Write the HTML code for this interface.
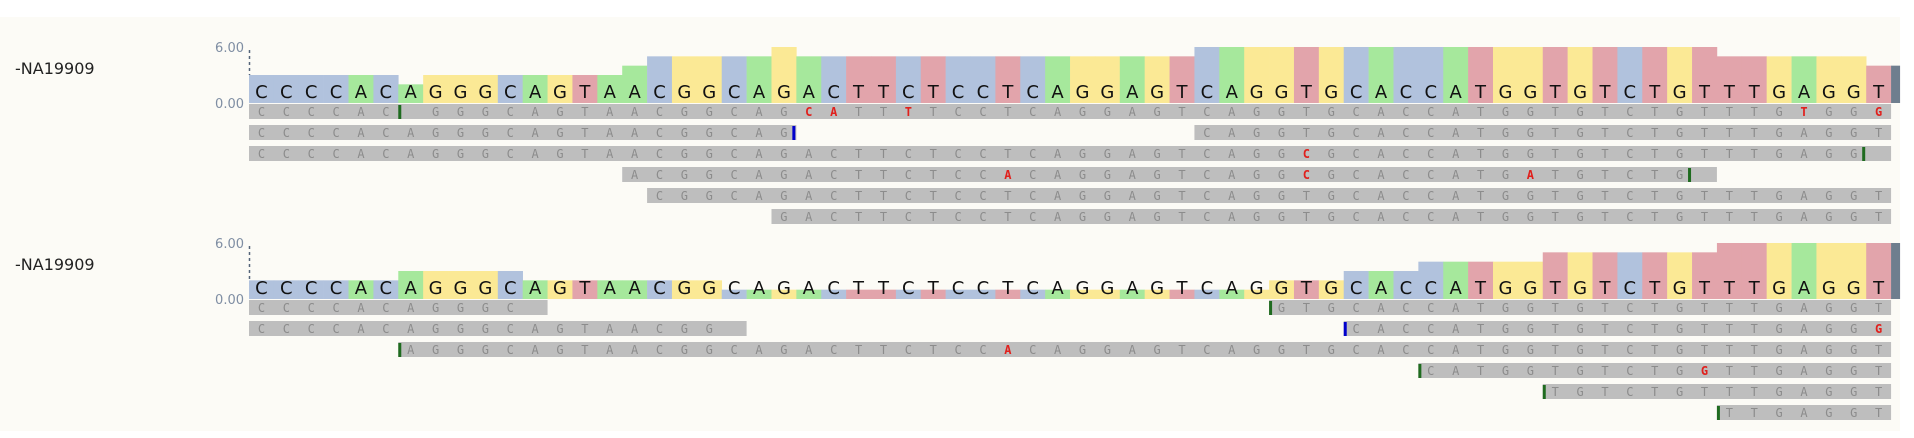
<!DOCTYPE html>
<html><head><meta charset="utf-8"><style>
html,body{margin:0;padding:0;background:#ffffff;}
svg{display:block;font-family:"DejaVu Sans","Liberation Sans",sans-serif;}
</style></head><body>
<svg id="chart" width="1914" height="438" viewBox="0 0 1914 438" xmlns="http://www.w3.org/2000/svg">
<rect x="0" y="0" width="1914" height="438" fill="#ffffff"/>
<rect x="0" y="17" width="1900" height="414" fill="#fcfbf6"/>
</svg>
<script>
const refSeq = "CCCCACAGGGCAGTAACGGCAGACTTCTCCTCAGGAGTCAGGTGCACCATGGTGTCTGTTTGAGGT";
const coverage1 = [3,3,3,3,3,3,2,3,3,3,3,3,3,3,3,4,5,5,5,5,5,6,5,5,5,5,5,5,5,5,5,5,5,5,5,5,5,5,6,6,6,6,6,6,6,6,6,6,6,6,6,6,6,6,6,6,6,6,6,5,5,5,5,5,5,4];
const coverage2 = [2,2,2,2,2,2,3,3,3,3,3,2,2,2,2,2,2,2,2,1,1,1,1,1,1,1,1,1,1,1,1,1,1,1,1,1,1,1,1,1,1,2,2,2,3,3,3,4,4,4,4,4,5,5,5,5,5,5,5,6,6,6,6,6,6,6];
const yTicks = ["6.00","0.00"];
const sampleNames = ["-NA19909","-NA19909"];
const reads1 = [
 {row:0,s:1,e:66,le:66,mm:{23:'C',24:'A',27:'T',63:'T',66:'G'},del:[7],marks:[[7,'L','#1f6b1f']]},
 {row:1,s:1,e:22,le:22,mm:{},del:[],marks:[[22,'R','#0000cc']]},
 {row:1,s:39,e:66,le:66,mm:{},del:[],marks:[]},
 {row:2,s:1,e:66,le:65,mm:{43:'C'},del:[],marks:[[65,'R','#1f6b1f']]},
 {row:3,s:16,e:59,le:58,mm:{31:'A',43:'C',52:'A'},del:[],marks:[[58,'R','#1f6b1f']]},
 {row:4,s:17,e:66,le:66,mm:{},del:[],marks:[]},
 {row:5,s:22,e:66,le:66,mm:{},del:[],marks:[]}
];
const reads2 = [
 {row:0,s:1,e:12,le:11,mm:{},del:[],marks:[]},
 {row:0,s:42,e:66,le:66,mm:{},del:[],marks:[[42,'L','#1f6b1f']]},
 {row:1,s:1,e:20,le:19,mm:{},del:[],marks:[]},
 {row:1,s:45,e:66,le:66,mm:{66:'G'},del:[],marks:[[45,'L','#0000cc']]},
 {row:2,s:7,e:66,le:66,mm:{31:'A'},del:[],marks:[[7,'L','#1f6b1f']]},
 {row:3,s:48,e:66,le:66,mm:{59:'G'},del:[],marks:[[48,'L','#1f6b1f']]},
 {row:4,s:53,e:66,le:66,mm:{},del:[],marks:[[53,'L','#1f6b1f']]},
 {row:5,s:60,e:66,le:66,mm:{},del:[],marks:[[60,'L','#1f6b1f']]}
];
const svg = document.getElementById('chart');
const NS = "http://www.w3.org/2000/svg";
const X0 = 249, W = 24.88, UNIT = 56/6;
const colors = {A:'#a6e89c',C:'#b1c2dd',G:'#fbe995',T:'#e2a4ab'};
function xPos(i){ return X0 + (i-1)*W; }
function mk(tag, attrs, parent){
  const el = document.createElementNS(NS, tag);
  for (const k in attrs) el.setAttribute(k, attrs[k]);
  (parent||svg).appendChild(el);
  return el;
}
function drawPanel(base, cov, reads, name, idx){
  const g = mk('g', {});
  
  
  const lbl = mk('text', {x:15, y:base-29, 'font-size':16, fill:'#222'}, g);
  lbl.textContent = name;
  
  
  const t1 = mk('text', {x:244, y:base-51, 'font-size':13, fill:'#7f8ea3', 'text-anchor':'end'}, g);
  t1.textContent = yTicks[0];
  
  
  const t0 = mk('text', {x:244, y:base+5, 'font-size':13, fill:'#7f8ea3', 'text-anchor':'end'}, g);
  t0.textContent = yTicks[1];
  
  
  const ax = mk('line', {x1:X0+0.5, x2:X0+0.5, y1:base-53, y2:base-cov[0]*UNIT, stroke:'#55657a', 'stroke-dasharray':'3,3', 'stroke-width':1.5}, g);
  
  
  for (let i=1;i<=refSeq.length;i++){
    const b = refSeq[i-1], h = cov[i-1]*UNIT;
    const r = mk('rect', {x:xPos(i), y:base-h, width:W+0.3, height:h, fill:colors[b]}, g);
    
    
    const t = mk('text', {x:xPos(i)+W/2, y:base-5, 'font-size':18, fill:'#111', 'text-anchor':'middle'}, g);
    t.textContent = b;
    
    
  }
  const hEnd = cov[cov.length-1]*UNIT;
  const endBar = mk('rect', {x:xPos(refSeq.length+1), y:base-hEnd, width:9, height:hEnd, fill:'#6f7e8e'}, g);
  
  
  reads.forEach(rd => {
    const ry = base + 1 + rd.row*21;
    const rg = mk('g', {}, g);
    
    
    mk('rect', {x:xPos(rd.s), y:ry, width:(rd.e-rd.s+1)*W, height:15, fill:'#bebebe'}, rg);
    for (let i=rd.s;i<=rd.le;i++){
      if (rd.del.indexOf(i)>=0) continue;
      const mmb = rd.mm[i];
      const t = mk('text', {x:xPos(i)+W/2, y:ry+12, 'font-size':12, fill: mmb?'#e0201c':'#8c8c8c', 'font-weight': mmb?'bold':'normal', 'text-anchor':'middle', 'font-family':'"DejaVu Sans Mono","Liberation Mono",monospace'}, rg);
      t.textContent = mmb || refSeq[i-1];
      
      
    }
    rd.marks.forEach(m => {
      const mx = m[1]==='L' ? xPos(m[0]) : xPos(m[0]+1)-4;
      const mr = mk('rect', {x:mx, y:ry+1, width:3, height:14, fill:m[2]}, rg);
      
      
    });
  });
}
drawPanel(103, coverage1, reads1, sampleNames[0], 1);
drawPanel(299, coverage2, reads2, sampleNames[1], 2);
</script>
</body></html>
